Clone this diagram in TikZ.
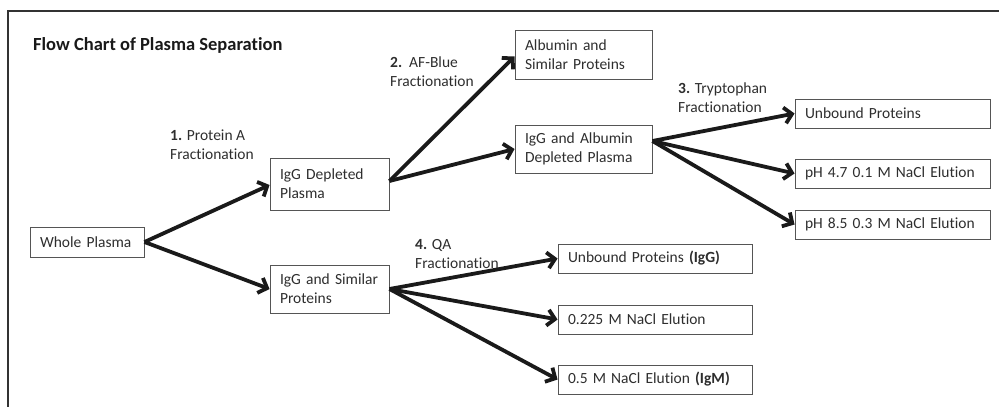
\documentclass[tikz,border=0pt]{standalone}
\usepackage{fontspec}
\setmainfont{Carlito}[Ligatures=NoCommon]
\usetikzlibrary{arrows.meta}
\definecolor{txt}{HTML}{2E2E2E}
\definecolor{edge}{HTML}{555555}
\definecolor{arrc}{HTML}{1A1A1A}
\begin{document}
\begin{tikzpicture}[x=1pt,y=-1pt,
  box/.style={draw=edge, line width=0.9pt, inner xsep=10pt, inner ysep=0pt,
    align=left, font=\fontsize{15.5}{19}\selectfont, text=txt},
  lbl/.style={anchor=north west, inner sep=0pt, align=left,
    font=\fontsize{15.5}{19}\selectfont, text=txt},
  arr/.style={line width=3.8pt, arrc, -{Straight Barb[length=7.5pt,width=16pt]}}]
\useasboundingbox (0,0) rectangle (999,407);
% frame
\draw[line width=2pt, black!80] (8,407) -- (8,11) -- (999,11);
% title
\node[anchor=base west, inner sep=0pt, font=\fontsize{18.5}{22}\selectfont\bfseries, text=black!90] (title) at (33,50) {Flow Chart of Plasma Separation};
% boxes
\node[box, text width=94pt, minimum height=30pt] (wp) at (87,242) {Whole Plasma};
\node[box, text width=99pt, minimum height=52pt] (igd) at (329.5,184) {IgG Depleted\\Plasma};
\node[box, text width=99pt, minimum height=48pt] (igs) at (329.5,289) {IgG and Similar\\Proteins};
\node[box, text width=117pt, minimum height=49pt] (alb) at (583.5,54.5) {Albumin and\\Similar Proteins};
\node[box, text width=117pt, minimum height=48pt] (iaa) at (583.5,149) {IgG and Albumin\\Depleted Plasma};
\node[box, text width=175pt, minimum height=29pt] (ub1) at (892.5,113.5) {Unbound Proteins};
\node[box, text width=175pt, minimum height=29pt] (ph47) at (892.5,173.5) {pH 4.7 0.1 M NaCl Elution};
\node[box, text width=175pt, minimum height=29pt] (ph85) at (892.5,224.5) {pH 8.5 0.3 M NaCl Elution};
\node[box, text width=174pt, minimum height=29pt] (ub2) at (655,258.5) {Unbound Proteins \textbf{(IgG)}};
\node[box, text width=174pt, minimum height=29pt] (n225) at (655,319.5) {0.225 M NaCl Elution};
\node[box, text width=174pt, minimum height=29pt] (n05) at (655,379.5) {0.5 M NaCl Elution \textbf{(IgM)}};
% labels
\node[lbl] (l1) at (170,130) {\textbf{1.} Protein A\\Fractionation};
\node[lbl] (l2) at (390,57) {\textbf{2.}\ \ AF-Blue\\Fractionation};
\node[lbl] (l3) at (678,83) {\textbf{3.} Tryptophan\\Fractionation};
\node[lbl] (l4) at (415,239) {\textbf{4.} QA\\Fractionation};
% arrows
\draw[arr] (wp.east) -- ([yshift=-1pt]igd.west);
\draw[arr] (wp.east) -- (igs.west);
\draw[arr] ([yshift=3pt]igd.east) -- ([yshift=-2pt]alb.west);
\draw[arr] ([yshift=3pt]igd.east) -- (iaa.west);
\draw[arr] ([yshift=8pt]iaa.east) -- (ub1.west);
\draw[arr] ([yshift=8pt]iaa.east) -- (ph47.west);
\draw[arr] ([yshift=8pt]iaa.east) -- (ph85.west);
\draw[arr] (igs.east) -- (ub2.west);
\draw[arr] (igs.east) -- (n225.west);
\draw[arr] (igs.east) -- (n05.west);
\end{tikzpicture}
\end{document}
